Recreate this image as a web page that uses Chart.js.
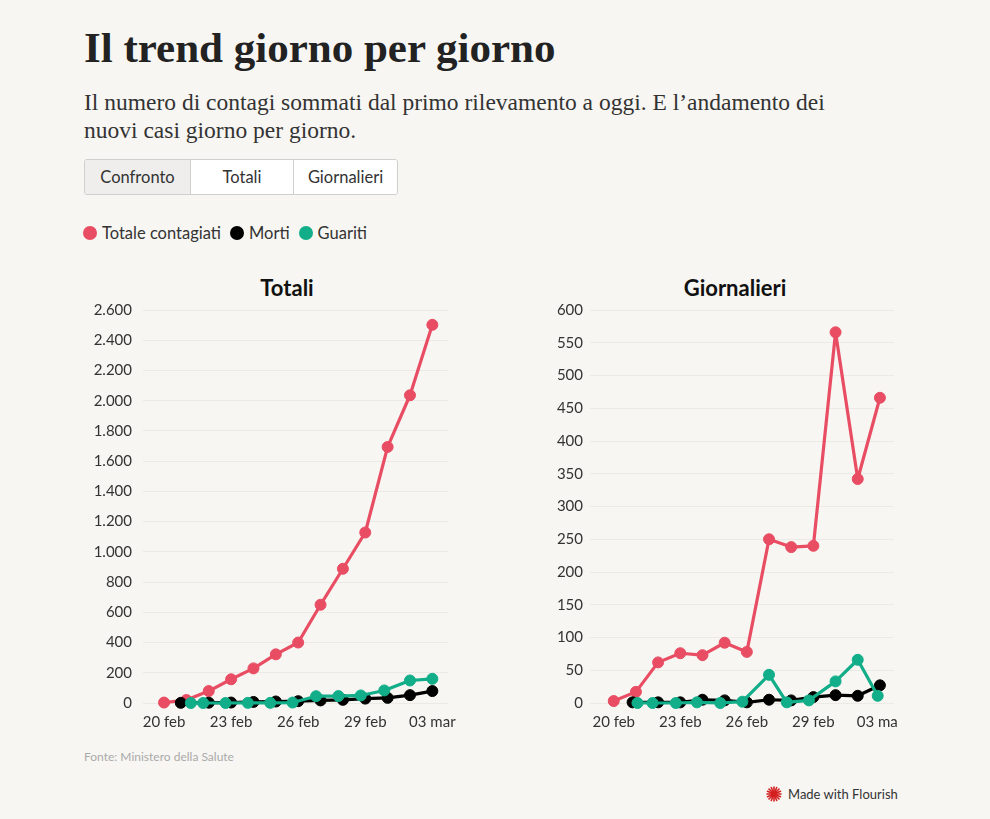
<!DOCTYPE html>
<html lang="it">
<head>
<meta charset="utf-8">
<title>Il trend giorno per giorno</title>
<script src="https://cdn.jsdelivr.net/npm/chart.js@4.4.1/dist/chart.umd.min.js"></script>
<style>
  html, body { margin: 0; padding: 0; }
  body {
    width: 990px; height: 819px; position: relative; overflow: hidden;
    background: #f7f6f2; color: #333; font-family: Lato, "Open Sans", sans-serif;
  }
  .abs { position: absolute; }
  #title {
    left: 84px; top: 24px; font: bold 43px/48px "Liberation Serif", serif; color: #222; white-space: nowrap;
  }
  #subtitle {
    left: 84px; top: 88px; font: 23.5px/28px "Liberation Serif", serif; color: #333; white-space: nowrap;
  }
  #buttons {
    left: 84px; top: 159px; height: 36px; display: flex;
    border: 1px solid #cfcfcf; border-radius: 3px; overflow: hidden; box-sizing: border-box;
  }
  #buttons div {
    height: 34px; line-height: 34px; text-align: center; font-size: 16.5px; color: #333;
    background: #fff; border-left: 1px solid #cfcfcf; box-sizing: border-box;
  }
  #buttons div:first-child { border-left: none; background: #efeeec; }
  #legend { left: 83px; top: 222px; display: flex; align-items: center; font-size: 16.5px; color: #333; }
  #legend span.dot { width: 14px; height: 14px; border-radius: 50%; display: inline-block; margin-right: 5px; }
  #legend span.lbl { margin-right: 9px; line-height: 22px; }
  .ptitle { top: 274px; width: 300px; text-align: center; font: bold 22px/28px Lato, sans-serif; color: #111; }
  #wrapL { left: 84px; top: 300px; width: 386px; height: 440px; }
  #wrapR { left: 534px; top: 300px; width: 363px; height: 440px; overflow: hidden; }
  #source { left: 84px; top: 749px; font-size: 12px; color: #aaa; }
  #flourish { left: 766px; top: 786px; font-size: 13px; color: #333; display: flex; align-items: center; }
  #flourish svg { margin-right: 6px; }
</style>
</head>
<body>
<div id="title" class="abs">Il trend giorno per giorno</div>
<div id="subtitle" class="abs">Il numero di contagi sommati dal primo rilevamento a oggi. E l’andamento dei<br>nuovi casi giorno per giorno.</div>
<div id="buttons" class="abs">
  <div style="width:105px">Confronto</div>
  <div style="width:103px">Totali</div>
  <div style="width:104px">Giornalieri</div>
</div>
<div id="legend" class="abs"></div>

<div class="abs ptitle" style="left:137px">Totali</div>
<div class="abs ptitle" style="left:585px">Giornalieri</div>

<div id="wrapL" class="abs"><canvas id="chartL" width="386" height="440"></canvas></div>
<div id="wrapR" class="abs"><canvas id="chartR" width="380" height="440"></canvas></div>

<div id="source" class="abs">Fonte: Ministero della Salute</div>
<div id="flourish" class="abs">
  <svg width="16" height="16" viewBox="-8 -8 16 16">
    <g stroke="#d41f1f" stroke-width="1.6" stroke-linecap="round">
      <line x1="0" y1="-7" x2="0" y2="7"/><line x1="-7" y1="0" x2="7" y2="0"/>
      <line x1="-5" y1="-5" x2="5" y2="5"/><line x1="-5" y1="5" x2="5" y2="-5"/>
      <line x1="-2.7" y1="-6.5" x2="2.7" y2="6.5"/><line x1="2.7" y1="-6.5" x2="-2.7" y2="6.5"/>
      <line x1="-6.5" y1="-2.7" x2="6.5" y2="2.7"/><line x1="-6.5" y1="2.7" x2="6.5" y2="-2.7"/>
    </g>
    <circle r="3" fill="#d41f1f"/>
  </svg>
  <span>Made with Flourish</span>
</div>

<script>
// days from 20 feb (x = 0) to 03 mar (x = 12)
const days = ['20 feb', '21 feb', '22 feb', '23 feb', '24 feb', '25 feb', '26 feb',
              '27 feb', '28 feb', '29 feb', '01 mar', '02 mar', '03 mar'];
const tickDays = [0, 3, 6, 9, 12];

const seriesNames = ['Totale contagiati', 'Morti', 'Guariti'];
const seriesColors = ['#e84d63', '#000000', '#12ad89'];

// Totali
const totContagiatiX = [0, 1, 2, 3, 4, 5, 6, 7, 8, 9, 10, 11, 12];
const totContagiati  = [3, 20, 79, 157, 229, 322, 400, 650, 888, 1128, 1694, 2036, 2502];
const totMortiX      = [0.75, 2, 3, 4, 5, 6, 7, 8, 9, 10, 11, 12];
const totMorti       = [1, 2, 3, 7, 10, 12, 17, 21, 29, 34, 52, 79];
const totGuaritiX    = [1.2, 1.75, 2.75, 3.75, 4.75, 5.75, 6.8, 7.8, 8.8, 9.85, 11, 12];
const totGuariti     = [0, 0, 0, 1, 1, 3, 45, 46, 50, 83, 149, 160];

// Giornalieri
const dayContagiatiX = [0, 1, 2, 3, 4, 5, 6, 7, 8, 9, 10, 11, 12];
const dayContagiati  = [3, 17, 62, 76, 73, 92, 78, 250, 238, 240, 566, 342, 466];
const dayMortiX      = [0.85, 2, 3, 4, 5, 6, 7, 8, 9, 10, 11, 12];
const dayMorti       = [1, 1, 1, 5, 4, 1, 5, 4, 9, 12, 11, 27];
const dayGuaritiX    = [1.07, 1.75, 2.8, 3.75, 4.8, 5.8, 7.0, 7.8, 8.8, 10.0, 11, 11.9];
const dayGuariti     = [0, 0, 0, 1, 0, 2, 43, 1, 4, 33, 66, 11];

// legend
const legend = document.getElementById('legend');
seriesNames.forEach((name, i) => {
    const dot = document.createElement('span');
    dot.className = 'dot';
    dot.style.background = seriesColors[i];
    const lbl = document.createElement('span');
    lbl.className = 'lbl';
    lbl.textContent = name;
    legend.appendChild(dot);
    legend.appendChild(lbl);
});

function toPoints(xs, ys) {
    return xs.map((x, i) => ({ x: x, y: ys[i] }));
}

function makeDataset(i, xs, ys) {
    return {
        label: seriesNames[i],
        data: toPoints(xs, ys),
        borderColor: seriesColors[i],
        backgroundColor: seriesColors[i],
        borderWidth: 3.2,
        borderJoinStyle: 'round',
        borderCapStyle: 'round',
        pointRadius: 5.5,
        pointBorderWidth: 1,
        pointHoverRadius: 5.5,
        tension: 0,
        clip: false,
        order: 3 - i
    };
}

function renderChart(ctx, sets, opts) {
    return new Chart(ctx, {
        type: 'line',
        data: {
            datasets: [
                makeDataset(0, sets[0][0], sets[0][1]),
                makeDataset(1, sets[1][0], sets[1][1]),
                makeDataset(2, sets[2][0], sets[2][1])
            ]
        },
        options: {
            responsive: false,
            animation: false,
            layout: { padding: { top: 10, right: opts.padRight, left: 0, bottom: 0 } },
            plugins: { legend: { display: false }, tooltip: { enabled: false } },
            scales: {
                x: {
                    type: 'linear',
                    min: opts.xMin,
                    max: opts.xMax,
                    grid: { display: false, drawTicks: false },
                    border: { display: false },
                    afterBuildTicks: function(scale) {
                        scale.ticks = tickDays.map(v => ({ value: v }));
                    },
                    afterFit: function(scale) { scale.height = 37; },
                    ticks: {
                        padding: 10,
                        maxRotation: 0,
                        autoSkip: false,
                        color: '#333',
                        font: { family: 'Lato', size: 15 },
                        callback: function(value) { return days[value]; }
                    }
                },
                y: {
                    min: 0,
                    max: opts.yMax,
                    grid: { color: '#eceae5', lineWidth: 1, drawTicks: false },
                    border: { display: false },
                    afterFit: function(scale) {
                        scale.width = opts.yWidth;
                        scale.paddingTop = 0;
                        scale.paddingBottom = 0;
                    },
                    ticks: {
                        stepSize: opts.yStep,
                        padding: opts.yPad,
                        color: '#333',
                        font: { family: 'Lato', size: 15 },
                        callback: function(value) {
                            return value.toLocaleString('it-IT');
                        }
                    }
                }
            }
        }
    });
}

renderChart(document.getElementById('chartL'), [
    [totContagiatiX, totContagiati],
    [totMortiX, totMorti],
    [totGuaritiX, totGuariti]
], { xMin: -0.94, xMax: 12.7, yMax: 2600, yStep: 200, yWidth: 59, yPad: 11, padRight: 22 });

renderChart(document.getElementById('chartR'), [
    [dayContagiatiX, dayContagiati],
    [dayMortiX, dayMorti],
    [dayGuaritiX, dayGuariti]
], { xMin: -1.07, xMax: 12.63, yMax: 600, yStep: 50, yWidth: 56, yPad: 7, padRight: 18 });
</script>
</body>
</html>
